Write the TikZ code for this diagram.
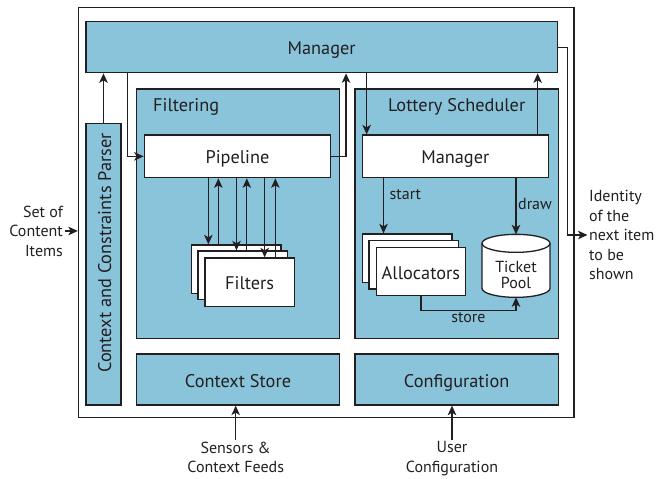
\documentclass[tikz,border=0pt]{standalone}
\usepackage{fontspec}
\setmainfont{PT Sans}
\usetikzlibrary{arrows.meta}
\definecolor{boxblue}{HTML}{8AC4DA}
\definecolor{ink}{HTML}{231F20}
\newcommand\bigtxt{\fontsize{18.3}{21}\selectfont}
\newcommand\smalltxt{\fontsize{16}{19.5}\selectfont}
\begin{document}
\begin{tikzpicture}[x=1pt,y=-1pt,color=ink,line width=1.3pt,
  frame/.style={draw, fill=white, inner sep=0pt},
  blk/.style={draw, fill=boxblue, inner sep=0pt, font=\bigtxt, text height=15pt, text depth=0pt},
  wbox/.style={draw, fill=white, inner sep=0pt, font=\bigtxt, text height=15pt, text depth=0pt},
  lbl/.style={font=\smalltxt, inner sep=1pt},
  arr/.style={-{Stealth[length=9.5pt,width=8.5pt,inset=2.5pt]}}]
\useasboundingbox (0,0) rectangle (656,479);

% outer frame
\node[frame, minimum width=495.5, minimum height=410] (frame) at (326.25,212.5) {};

% blue blocks
\node[blk, minimum width=471.3, minimum height=51] (mgr) at (321.65,47.2) {Manager};
\node[blk, minimum width=35, minimum height=281.7] (parser) at (103.5,264.15) {};
\node[rotate=90, font=\bigtxt, inner sep=0pt, text height=15pt, text depth=0pt] (parsertxt) at (103.5,253) {Context and Constraints Parser};
\node[blk, minimum width=202.6, minimum height=249.3] (filtering) at (238,213.65) {};
\node[font=\bigtxt, anchor=base west, inner sep=0pt] (filtlbl) at (152.5,111.5) {Filtering};
\node[blk, minimum width=203.3, minimum height=249.3] (lottery) at (456.65,213.65) {};
\node[font=\bigtxt, anchor=base, inner sep=0pt] (lotlbl) at (456.65,111) {Lottery Scheduler};
\node[blk, minimum width=202.6, minimum height=51] (store) at (238,379.5) {Context Store};
\node[blk, minimum width=203.3, minimum height=51] (config) at (456.65,379.5) {Configuration};

% white blocks
\node[wbox, minimum width=186.4, minimum height=42.7] (pipeline) at (237.5,156.35) {Pipeline};
\node[wbox, minimum width=186, minimum height=42.7] (lsmgr) at (455.3,156.35) {Manager};

% stacked filters
\node[wbox, minimum width=89.3, minimum height=48.3] (fback) at (236.35,269.15) {};
\node[wbox, minimum width=89.3, minimum height=48.3] (fmid) at (242.5,275.15) {};
\node[wbox, minimum width=89.3, minimum height=48.3] (ffront) at (249.65,282.15) {Filters};

% stacked allocators
\node[wbox, minimum width=89.3, minimum height=48.3] (aback) at (407.2,258.15) {};
\node[wbox, minimum width=89.3, minimum height=48.3] (amid) at (413.65,264.85) {};
\node[wbox, minimum width=89.3, minimum height=48.3] (afront) at (420.85,271.5) {Allocators};

% ticket pool cylinder
\node[minimum width=68, minimum height=61.7, inner sep=0pt] (pool) at (516,265.85) {};
\draw[fill=white] ([xshift=-34pt,yshift=-9pt]pool.north)
  -- ([xshift=-34pt,yshift=9pt]pool.south)
  arc[start angle=180,end angle=360,x radius=34pt,y radius=9pt]
  -- ([xshift=34pt,yshift=-9pt]pool.north)
  arc[start angle=0,end angle=180,x radius=34pt,y radius=9pt] -- cycle;
\draw ([xshift=-34pt,yshift=-9pt]pool.north)
  arc[start angle=180,end angle=360,x radius=34pt,y radius=9pt];
\node[font=\fontsize{16}{15.5}\selectfont, align=center, inner sep=0pt] (pooltxt) at ([yshift=-9pt]pool.center) {Ticket\\Pool};

% outside labels
\node[lbl, align=right, anchor=east] (setin) at (64.5,231) {Set of\\Content\\Items};
\node[lbl, align=left, anchor=west] (ident) at (587.5,235) {Identity\\of the\\next item\\to be\\shown};
\node[lbl, align=center, anchor=north] (sensors) at (235.7,440) {Sensors \&\\Context Feeds};
\node[lbl, align=center, anchor=north] (user) at (452,440) {User\\Configuration};

% connectors around the manager
\path ([xshift=42.3pt]mgr.south west) coordinate (m1)
      ([xshift=260.7pt]mgr.south west) coordinate (m2)
      ([xshift=281.3pt]mgr.south west) coordinate (m3)
      ([xshift=452.3pt]mgr.south west) coordinate (m4);
\draw[arr] (parser.north) -- (parser.north |- mgr.south);
\draw[arr] (m1) |- (pipeline.west);
\draw[arr] (pipeline.east) -| (m2);
\draw[arr] (m3) -- (m3 |- lsmgr.north);
\draw[arr] (m4 |- lsmgr.north) -- (m4);
\draw[arr] (mgr.east) -- ++(9.4,0) |- (ident.west);

% pipeline <-> filters
\path ([xshift=17.3pt]fback.north west) coordinate (d1)
      ([xshift=27.3pt]fback.north west) coordinate (u1)
      ([xshift=39.3pt]fmid.north west) coordinate (d2)
      ([xshift=49.6pt]fmid.north west) coordinate (u2)
      ([xshift=60.3pt]ffront.north west) coordinate (d3)
      ([xshift=71pt]ffront.north west) coordinate (u3);
\draw[arr] (d1 |- pipeline.south) -- (d1);
\draw[arr] (u1) -- (u1 |- pipeline.south);
\draw[arr] (d2 |- pipeline.south) -- (d2);
\draw[arr] (u2) -- (u2 |- pipeline.south);
\draw[arr] (d3 |- pipeline.south) -- (d3);
\draw[arr] (u3) -- (u3 |- pipeline.south);

% lottery scheduler internals
\path ([xshift=21.6pt]aback.north west) coordinate (s1);
\draw[arr] (s1 |- lsmgr.south) -- (s1);
\node[lbl, anchor=west] (startlbl) at (388,195) {start};
\draw[arr] (pool.north |- lsmgr.south) -- (pool.north);
\node[lbl, anchor=west] (drawlbl) at (516.5,204) {draw};
\draw[arr] (afront.south) -- ++(0,14.3) -| node[pos=0.25, below, lbl] (storelbl) {store} (pool.south);

% external inputs
\draw[arr] (setin.east) -- (setin.east -| frame.west);
\draw[arr] (sensors.north) -- (sensors.north |- store.south);
\draw[arr] (user.north) -- (user.north |- config.south);
\end{tikzpicture}
\end{document}
